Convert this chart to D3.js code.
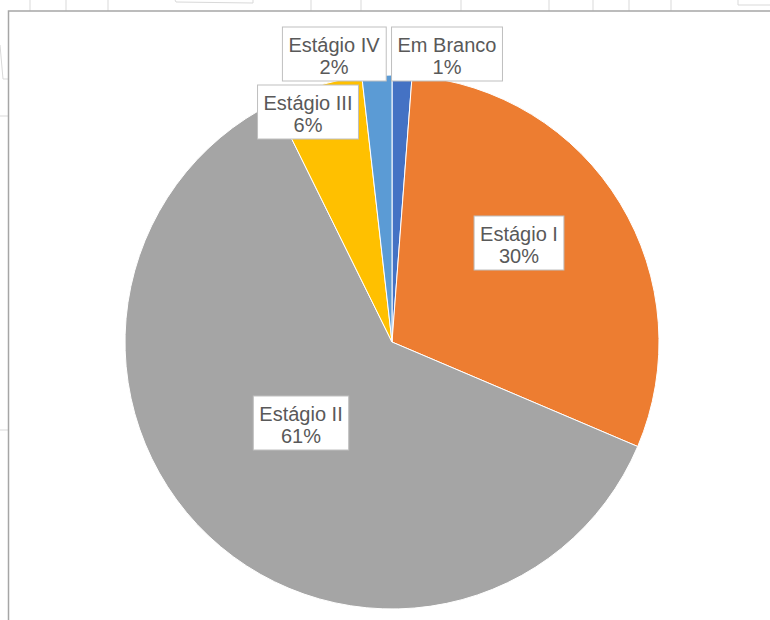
<!DOCTYPE html>
<html>
<head>
<meta charset="utf-8">
<script src="https://cdn.jsdelivr.net/npm/d3@7"></script>
<style>
  body { margin: 0; background: #fff; }
  svg { display: block; }
</style>
</head>
<body>
<svg id="chart"></svg>
<script>
// Data
const categories = ["Em Branco", "Estágio I", "Estágio II", "Estágio III", "Estágio IV"];
const values = [1.2, 30.2, 61.3, 5.5, 1.8];
const colors = ["#4472C4", "#ED7D31", "#A5A5A5", "#FFC000", "#5B9BD5"];

// label centre offsets from the pie centre (pixels)
const labelOffsets = [[55, -288], [127, -99], [-91, 81], [-84, -230], [-58, -288]];

const width = 770;
const height = 620;
const svg = d3.select("#chart")
  .attr("width", width)
  .attr("height", height)
  .style("font-family", "'Liberation Sans', Arial, sans-serif");

// faint spreadsheet grid behind the chart frame
const gridColor = "#d9d9d9";
[30, 66, 108, 311, 361, 461, 549, 593, 629, 671].forEach(x => {
  svg.append("line")
    .attr("x1", x).attr("x2", x)
    .attr("y1", 0).attr("y2", 11)
    .attr("stroke", gridColor)
    .attr("stroke-width", 1);
});
svg.append("path")
  .attr("d", "M175,0 L176,2 L253,3 L253,0")
  .attr("fill", "none").attr("stroke", gridColor);
svg.append("path")
  .attr("d", "M738,0 L738,5 L770,5")
  .attr("fill", "none").attr("stroke", gridColor);
svg.append("path")
  .attr("d", "M0,45 L3,79 L8,79")
  .attr("fill", "none").attr("stroke", gridColor);
[116, 430].forEach(y => {
  svg.append("line")
    .attr("x1", 0).attr("x2", 8)
    .attr("y1", y).attr("y2", y)
    .attr("stroke", gridColor);
});

// chart area frame
svg.append("rect")
  .attr("x", 8.5)
  .attr("y", 11)
  .attr("width", width + 20)
  .attr("height", height + 20)
  .attr("fill", "#fff")
  .attr("stroke", "#a6a6a6")
  .attr("stroke-width", 1.5);

// Pie
const cx = 392;
const cy = 342;
const radius = 267;

const pie = d3.pie().sort(null).value(d => d);
const arc = d3.arc().innerRadius(0).outerRadius(radius);
const arcs = pie(values);
const total = d3.sum(values);

const g = svg.append("g").attr("transform", `translate(${cx},${cy})`);

g.selectAll("path.slice")
  .data(arcs)
  .enter()
  .append("path")
  .attr("class", "slice")
  .attr("d", arc)
  .attr("fill", (d, i) => colors[i])
  .attr("stroke", "#fff")
  .attr("stroke-width", 1);

// short leader for Estágio IV
const ivArc = arcs[4];
const ivAngle = (ivArc.startAngle + ivArc.endAngle) / 2;
g.append("line")
  .attr("x1", Math.sin(ivAngle) * radius)
  .attr("y1", -Math.cos(ivAngle) * radius)
  .attr("x2", Math.sin(ivAngle) * radius)
  .attr("y2", -Math.cos(ivAngle) * radius - 16)
  .attr("stroke", colors[4])
  .attr("stroke-width", 2);

// Data labels in white boxes
const labels = g.selectAll("g.label")
  .data(arcs)
  .enter()
  .append("g")
  .attr("class", "label")
  .attr("transform", (d, i) => `translate(${labelOffsets[i][0]},${labelOffsets[i][1]})`);

const labelText = labels.append("text")
  .attr("text-anchor", "middle")
  .attr("fill", "#595959")
  .attr("font-size", 20);

labelText.append("tspan")
  .attr("x", 0)
  .attr("y", -2)
  .text((d, i) => categories[i]);

labelText.append("tspan")
  .attr("x", 0)
  .attr("y", 20)
  .text(d => Math.round(d.value / total * 100) + "%");

labels.each(function() {
  const grp = d3.select(this);
  const bb = grp.select("text").node().getBBox();
  grp.insert("rect", "text")
    .attr("x", bb.x - 6)
    .attr("y", -27)
    .attr("width", bb.width + 12)
    .attr("height", 54)
    .attr("fill", "#fff")
    .attr("stroke", "#bfbfbf")
    .attr("stroke-width", 1);
});
</script>
</body>
</html>
